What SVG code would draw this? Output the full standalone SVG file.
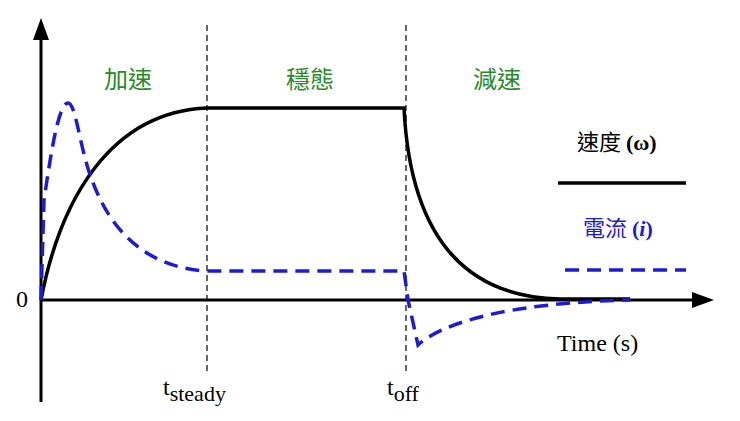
<svg xmlns="http://www.w3.org/2000/svg" width="740" height="421" viewBox="0 0 740 421">
<style>
.ax{stroke:#000;stroke-width:3;fill:none}
.vd{stroke:#000;stroke-width:1.2;stroke-dasharray:6,4;fill:none}
.sp{stroke:#000;stroke-width:3.5;fill:none}
.cu{stroke:#1c1cd6;stroke-width:3.5;fill:none;stroke-dasharray:14,8}
.g{fill:#2a8a2a;font-family:"Noto Sans CJK TC",sans-serif;font-size:24px}
.t{font-family:"Liberation Serif",serif;font-size:24px}
</style>
<rect width="740" height="421" fill="#fff"/>
<g id="axes">
<line class="ax" x1="41" y1="402" x2="41" y2="36"/>
<polygon points="41,18 33,40 49,40"/>
<line class="ax" x1="41" y1="300" x2="698" y2="300"/>
<polygon points="714,300 692,292 692,308"/>
</g>
<g id="connectors">
<line class="vd" x1="207" y1="25" x2="207" y2="372"/>
<line class="vd" x1="406" y1="25" x2="406" y2="372"/>
<path class="sp" d="M41,300 C60,200 110,112 207,108 L404,108 C410,230 460,297 560,299 L630,299"/>
<path class="cu" d="M41,300 L44,200 C50,160 58,103 68,103 C76,103 80,150 92,180 C112,235 150,268 207,271 L404,271 L408,300 L418,345 C440,325 500,303 630,300"/>
<line class="sp" x1="558" y1="183" x2="686" y2="183"/>
<line class="cu" x1="565" y1="270" x2="686" y2="270"/>
</g>
<g id="labels">
<text class="g" x="128" y="88" text-anchor="middle">加速</text>
<text class="g" x="310" y="88" text-anchor="middle">穩態</text>
<text class="g" x="497" y="88" text-anchor="middle">減速</text>
<text x="577" y="150" font-family="Noto Sans CJK TC,sans-serif" font-size="22">速度 <tspan font-family="Liberation Serif,serif" font-weight="bold">(ω)</tspan></text>
<text x="583" y="236" fill="#1c1cd6" font-family="Noto Sans CJK TC,sans-serif" font-size="22">電流 <tspan font-family="Liberation Serif,serif" font-weight="bold">(<tspan font-style="italic">i</tspan>)</tspan></text>
<text class="t" x="16" y="307">0</text>
<text class="t" x="557" y="351" font-size="26">Time (s)</text>
<text class="t" x="163" y="395" font-size="32">t<tspan font-size="22" dy="6">steady</tspan></text>
<text class="t" x="387" y="395" font-size="32">t<tspan font-size="22" dy="6">off</tspan></text>
</g>
</svg>
